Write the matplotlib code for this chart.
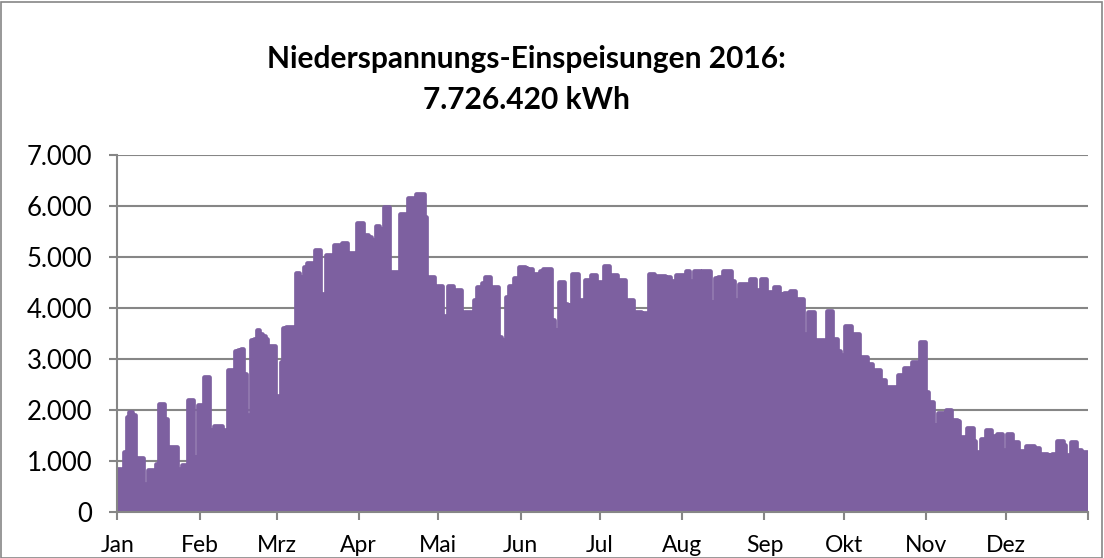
import numpy as np
import matplotlib.pyplot as plt
from matplotlib.patches import Rectangle

# daily peak feed-in per month (kW)
jan = [850, 850, 330, 1180, 1860, 1960, 1900, 950, 1050, 1050, 555, 555, 820, 820, 555, 950,
       2120, 2120, 1830, 1270, 1270, 1270, 1270, 850, 850, 915, 915, 2190, 2190, 1050, 1080]
feb = [2090, 2090, 2650, 2650, 850, 1600, 1680, 1680, 1680, 1600, 1440, 2780, 2780, 2520, 3150,
       3180, 3200, 2710, 1900, 1900, 3370, 3400, 3570, 3500, 3460, 3400, 3250, 3250, 3250]
mrz = [2270, 2270, 2940, 3600, 3630, 3630, 3630, 3010, 4680, 4600, 4180, 4800, 4880, 4880, 2620, 5140,
       5140, 4280, 4280, 5030, 5030, 4370, 5240, 5240, 5200, 5270, 5270, 3720, 5070, 5070, 4670]
apr = [5660, 5660, 5440, 5440, 5400, 5330, 5330, 5610, 5550, 5480, 5980, 5980, 4700, 4700, 4700,
       4700, 5850, 5850, 5220, 6160, 6160, 5900, 6240, 6240, 6240, 5790, 3560, 4610, 4610, 4080]
mai = [4440, 4440, 3850, 3850, 4440, 4440, 3890, 4350, 4350, 3850, 3920, 3920, 3920, 3790, 4150, 4420,
       4420, 4500, 4600, 4600, 4280, 4420, 4420, 3430, 3370, 3370, 4210, 4440, 4440, 4590, 4590]
jun = [4810, 4810, 4790, 4770, 4770, 4660, 4660, 4530, 4730, 4770, 4770, 4770, 3760, 3370, 3560,
       4510, 4510, 4080, 4050, 4050, 4670, 4670, 4150, 4150, 4150, 4540, 4540, 4640, 4640, 4510]
jul = [4510, 4480, 4820, 4820, 4250, 4640, 4640, 4540, 4540, 4540, 4020, 4160, 4160, 3920, 3920, 3920,
       3900, 3900, 3900, 4670, 4670, 4620, 4620, 4620, 4620, 4610, 4610, 4530, 4530, 4640, 4640]
aug = [4640, 4620, 4730, 4530, 4530, 4730, 4730, 4480, 4730, 4730, 4730, 4120, 4080, 4580, 4610, 4610,
       4730, 4730, 4730, 4530, 4160, 4160, 4480, 4480, 4480, 4480, 4560, 4560, 4350, 4350, 4560]
sep = [4560, 4310, 4310, 4310, 4420, 4420, 4280, 4280, 4290, 4290, 4330, 4330, 4180, 4180, 4180,
       3500, 3500, 3920, 3920, 3070, 3370, 3370, 3370, 3240, 3950, 3950, 3390, 3390, 3160, 3070]
okt = [3070, 3650, 3650, 3490, 3490, 3490, 2220, 3040, 3040, 2910, 2910, 2320, 2780, 2780, 2580, 2580,
       2450, 2450, 2450, 2450, 2060, 2680, 2680, 2820, 2820, 2450, 2950, 2950, 2950, 3330, 3330]
nov = [2350, 2150, 2150, 1700, 1140, 1940, 1940, 1940, 2000, 2000, 1800, 1800, 1790, 1470, 1470,
       1140, 1650, 1650, 1400, 1170, 1170, 1430, 1430, 1600, 1600, 1500, 1500, 1530, 1530, 1210]
dez = [1210, 1520, 1520, 1370, 1370, 1190, 1190, 1190, 1290, 1290, 1290, 1260, 1260, 1140, 1140, 1140,
       1110, 1110, 1140, 1140, 1400, 1400, 1320, 1110, 1110, 1370, 1370, 1210, 1210, 1170, 1170]

months = ["Jan", "Feb", "Mrz", "Apr", "Mai", "Jun", "Jul", "Aug", "Sep", "Okt", "Nov", "Dez"]
title = "Niederspannungs-Einspeisungen 2016:\n7.726.420 kWh"

series = [jan, feb, mrz, apr, mai, jun, jul, aug, sep, okt, nov, dez]
values = np.array(sum(series, []) + [0])
days = np.arange(len(values))
month_starts = np.cumsum([0] + [len(m) for m in series])

purple = "#7D60A0"
grey = "#868686"
plt.rcParams["font.family"] = ["Lato", "DejaVu Sans"]

fig = plt.figure(figsize=(11.04, 5.58), dpi=100)
fig.patches.append(Rectangle((0.001, 0.0), 0.997, 0.997, transform=fig.transFigure,
                             fill=False, edgecolor=grey, linewidth=1.2))
ax = fig.add_axes([0.1064, 0.0824, 0.8791, 0.6398])

ax.fill_between(days, values, 0, step="mid", color=purple, linewidth=0)
ax.plot(days, values, drawstyle="steps-mid", color=purple, linewidth=3.4,
        solid_joinstyle="round", solid_capstyle="round")

ax.set_xlim(0, month_starts[-1])
ax.set_ylim(0, 7000)
ax.set_yticks(np.arange(0, 7001, 1000))
ax.set_yticklabels([f"{v:,}".replace(",", ".") for v in range(0, 7001, 1000)])
ax.set_xticks(month_starts)
ax.set_xticklabels(months + [""])

ax.grid(axis="y", color=grey, linewidth=1.5)
ax.set_axisbelow(True)
for s in ["top", "right"]:
    ax.spines[s].set_visible(False)
for s in ["left", "bottom"]:
    ax.spines[s].set_color(grey)
    ax.spines[s].set_linewidth(1.5)
ax.tick_params(axis="both", direction="out", length=6, width=1.5, color=grey,
               labelsize=16.5, labelcolor="black")
ax.tick_params(axis="y", pad=12, labelsize=18.5)
ax.tick_params(axis="x", pad=10.5)

fig.text(0.477, 0.858, title, ha="center", va="center", fontsize=21.5, fontweight="bold",
         linespacing=1.55)

fig.savefig("out.png", dpi=100)
